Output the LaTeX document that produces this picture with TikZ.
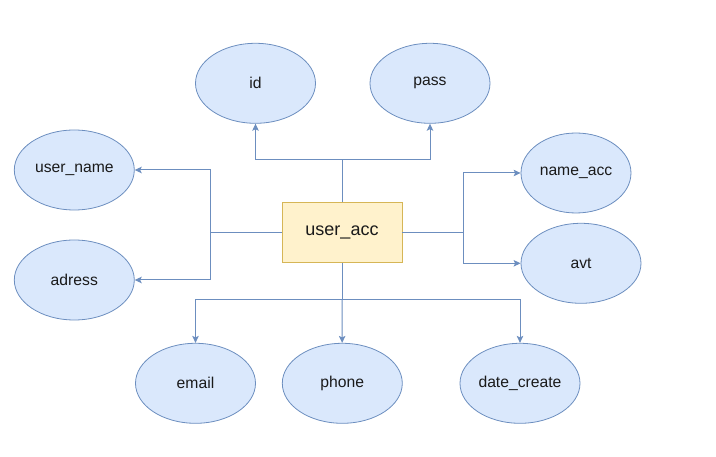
\documentclass[tikz,border=0pt]{standalone}
\usepackage{fontspec}
\setmainfont{Liberation Sans}
\usetikzlibrary{shapes.geometric,arrows.meta}
\definecolor{attrfill}{HTML}{DAE8FC}
\definecolor{attrline}{HTML}{6C8EBF}
\definecolor{entfill}{HTML}{FFF2CC}
\definecolor{entline}{HTML}{D6B656}
\definecolor{txt}{HTML}{1A1A1A}
\tikzset{
  attr/.style={ellipse, draw=attrline, fill=attrfill, line width=0.8pt, minimum width=120pt, minimum height=80pt, inner sep=0pt, font=\fontsize{15.7}{18}\selectfont, text=txt},
  entity/.style={rectangle, draw=entline, fill=entfill, line width=0.9pt, minimum width=120pt, minimum height=60pt, inner sep=0pt, font=\fontsize{18}{21}\selectfont, text=txt},
  conn/.style={draw=attrline, line width=1pt},
  arr/.style={conn, -{Stealth[length=7pt,width=6.5pt,inset=1.5pt]}}
}
\begin{document}
\begin{tikzpicture}[x=1pt,y=-1pt]
\useasboundingbox (0,0) rectangle (716,457);
\node[entity] (acc) at (342,232.7) {user\_acc};
\node[attr] (id) at (255.5,83.3) {id};
\node[attr] (pass) at (430,83.3) {pass};
\node[attr] (uname) at (74.3,170) {user\_name};
\node[attr] (adress) at (74.3,280) {adress};
\node[attr, minimum width=110pt] (nacc) at (576,173) {name\_acc};
\node[attr] (avt) at (581,263.3) {avt};
\node[attr] (email) at (195.5,383.3) {email};
\node[attr] (phone) at (342.3,383.3) {phone};
\node[attr] (date) at (520,383.3) {date\_create};
\coordinate (jt) at (342,160);
\coordinate (jl) at (210,232.7);
\coordinate (jr) at (463,232.7);
\coordinate (jb) at (342,300);
\draw[conn] (acc.north) -- (jt);
\draw[arr] (jt) -| (id);
\draw[arr] (jt) -| (pass);
\draw[conn] (acc.west) -- (jl);
\draw[arr] (jl) |- (uname);
\draw[arr] (jl) |- (adress);
\draw[conn] (acc.east) -- (jr);
\draw[arr] (jr) |- (nacc);
\draw[arr] (jr) |- (avt);
\draw[conn] (acc.south) -- (jb);
\draw[arr] (jb) -| (email);
\draw[arr] (jb) -- (phone);
\draw[arr] (jb) -| (date);
\end{tikzpicture}
\end{document}
